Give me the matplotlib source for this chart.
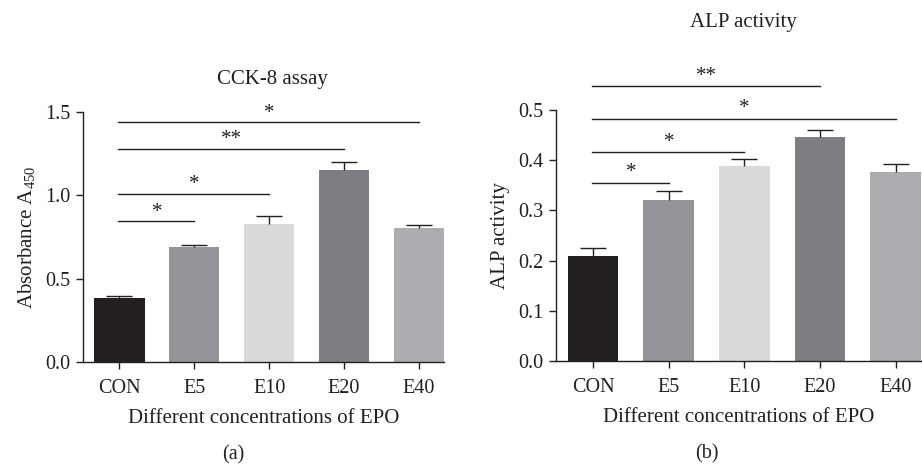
import matplotlib
matplotlib.use("Agg")
import matplotlib.pyplot as plt

plt.rcParams['font.family'] = ['Liberation Serif', 'DejaVu Serif']
plt.rcParams['mathtext.fontset'] = 'custom'
plt.rcParams['mathtext.rm'] = 'Liberation Serif'
plt.rcParams['mathtext.it'] = 'Liberation Serif'

groups = ["CON", "E5", "E10", "E20", "E40"]
colors = ["#231f20", "#939598", "#d9dadb", "#7d7e82", "#acadb0"]

cck_mean = [0.385, 0.688, 0.830, 1.152, 0.803]
cck_err = [0.008, 0.016, 0.045, 0.048, 0.020]
# (start, end, line height, label)
cck_sig = [(0, 1, 0.843, "*"), (0, 2, 1.008, "*"), (0, 3, 1.279, "**"), (0, 4, 1.437, "*")]

alp_mean = [0.209, 0.320, 0.388, 0.447, 0.376]
alp_err = [0.016, 0.019, 0.014, 0.013, 0.017]
alp_sig = [(0, 1, 0.3545, "*"), (0, 2, 0.416, "*"), (0, 4, 0.4825, "*"), (0, 3, 0.547, "**")]

ink = "#231f20"
fig = plt.figure(figsize=(9.22, 4.66), dpi=100)

ax1 = fig.add_axes([0.090, 0.2232, 0.3916, 0.5365])
ax2 = fig.add_axes([0.6027, 0.2253, 0.3963, 0.5387])


def draw(ax, means, errs, sig, ylim, yticks, ylabel, title, title_xy, tag, star_off, left):
    x = list(range(len(groups)))
    ax.bar(x, means, width=0.67, color=colors, zorder=2)
    _, caps, _ = ax.errorbar(x, means, yerr=[[0] * len(errs), errs], fmt="none", ecolor=ink,
                             elinewidth=1.0, capsize=9.5, capthick=1.0, zorder=3)
    # keep only the upper caps
    for c in caps:
        if list(c.get_ydata()) == list(means):
            c.set_visible(False)
    for a, b, h, lab in sig:
        ax.plot([a - 0.02, b], [h, h], color=ink, lw=1.0, clip_on=False)
        ax.text((a + b) / 2, h + star_off, lab, ha="center", va="center",
                fontsize=15, color=ink, clip_on=False)
    ax.set_xlim(left, 4.335)
    ax.set_ylim(*ylim)
    ax.set_yticks(yticks)
    ax.set_yticklabels([f"{t:.1f}" for t in yticks])
    ax.set_xticks(x)
    ax.set_xticklabels(groups)
    ax.spines["top"].set_visible(False)
    ax.spines["right"].set_visible(False)
    for s in ("left", "bottom"):
        ax.spines[s].set_color(ink)
        ax.spines[s].set_linewidth(1.0)
    ax.tick_params(direction="out", length=5, width=1.0, color=ink,
                   labelsize=14.5, labelcolor=ink, pad=4)
    ax.tick_params(axis="x", pad=7)
    ax.set_xlabel("Different concentrations of EPO", fontsize=15, color=ink, labelpad=8)
    ax.set_ylabel(ylabel, fontsize=15, color=ink, labelpad=6)
    ax.text(title_xy[0], title_xy[1], title, transform=ax.transAxes, ha="center", va="center",
            fontsize=15, color=ink)
    ax.text(0.415, -0.37, tag, transform=ax.transAxes, ha="center", va="center",
            fontsize=14.5, color=ink)


draw(ax1, cck_mean, cck_err, cck_sig, (0, 1.5), [0.0, 0.5, 1.0, 1.5],
     r"Absorbance A$_{\mathrm{450}}$", "CCK-8 assay", (0.526, 1.13), "(a)", 0.055, -0.487)
draw(ax2, alp_mean, alp_err, alp_sig, (0, 0.5), [0.0, 0.1, 0.2, 0.3, 0.4, 0.5],
     "ALP activity", "ALP activity", (0.515, 1.35), "(b)", 0.02, -0.495)

fig.savefig("out.png", dpi=100)
